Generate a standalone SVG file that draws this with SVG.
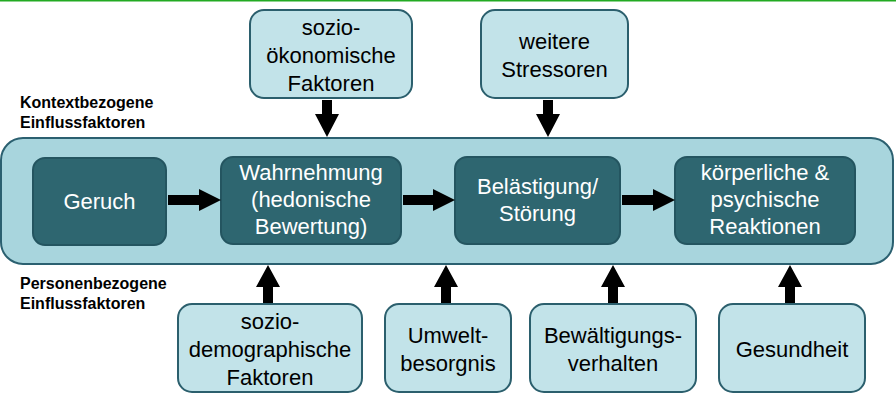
<svg xmlns="http://www.w3.org/2000/svg" width="896" height="406" viewBox="0 0 896 406">
<style>
.t{font-family:"Liberation Sans",Arial,sans-serif;font-size:22px;text-anchor:middle}
.w{fill:#fff}.k{fill:#000}
.lb{font-family:"Liberation Sans",Arial,sans-serif;font-size:16px;font-weight:bold;fill:#000}
.dark{fill:#2e6670;stroke:#245560;stroke-width:2}
.light{fill:#c2e3e9;stroke:#2b5f6d;stroke-width:2}
</style>
<rect width="896" height="406" fill="#fff"/>
<line x1="0" y1="0.5" x2="896" y2="0.5" stroke="#22aa22" stroke-width="2"/>
<text class="lb" x="20" y="108">Kontextbezogene</text>
<text class="lb" x="20" y="128">Einflussfaktoren</text>
<text class="lb" x="20" y="289">Personenbezogene</text>
<text class="lb" x="20" y="309">Einflussfaktoren</text>
<g id="context"><rect x="1" y="138" width="892" height="126" rx="22" fill="#a8d5dd" stroke="#2b6070" stroke-width="2"/></g>
<g id="geruch"><rect class="dark" x="33" y="158" width="133" height="87" rx="12"/><text class="t w" x="99.5" y="209">Geruch</text></g>
<g id="wahrnehmung"><rect class="dark" x="221" y="157" width="180" height="87" rx="12"/><text class="t w" x="311" y="180">Wahrnehmung</text><text class="t w" x="311" y="207">(hedonische</text><text class="t w" x="311" y="234">Bewertung)</text></g>
<g id="belaestigung"><rect class="dark" x="455" y="157" width="165" height="87" rx="12"/><text class="t w" x="537.5" y="194">Belästigung/</text><text class="t w" x="537.5" y="221">Störung</text></g>
<g id="reaktionen"><rect class="dark" x="675" y="157" width="180" height="87" rx="12"/><text class="t w" x="765" y="180">körperliche &amp;</text><text class="t w" x="765" y="207">psychische</text><text class="t w" x="765" y="234">Reaktionen</text></g>
<g id="soziooek"><rect class="light" x="250" y="10" width="162" height="88" rx="14"/><text class="t k" x="331" y="35">sozio-</text><text class="t k" x="331" y="63">ökonomische</text><text class="t k" x="331" y="91">Faktoren</text></g>
<g id="stressoren"><rect class="light" x="481" y="10" width="147" height="88" rx="14"/><text class="t k" x="554.5" y="49">weitere</text><text class="t k" x="554.5" y="77">Stressoren</text></g>
<g id="soziodemo"><rect class="light" x="178" y="304" width="184" height="88" rx="14"/><text class="t k" x="270" y="329">sozio-</text><text class="t k" x="270" y="357">demographische</text><text class="t k" x="270" y="385">Faktoren</text></g>
<g id="umwelt"><rect class="light" x="385" y="304" width="126" height="88" rx="14"/><text class="t k" x="448" y="343">Umwelt-</text><text class="t k" x="448" y="371">besorgnis</text></g>
<g id="bewaeltigung"><rect class="light" x="530" y="304" width="166" height="88" rx="14"/><text class="t k" x="613" y="343">Bewältigungs-</text><text class="t k" x="613" y="371">verhalten</text></g>
<g id="gesundheit"><rect class="light" x="719" y="304" width="146" height="88" rx="14"/><text class="t k" x="792" y="357">Gesundheit</text></g>
<g id="connectors" fill="#000">
<polygon points="322,100 332,100 332,114 339,114 327,137 315,114 322,114"/>
<polygon points="543,100 553,100 553,114 560,114 548,137 536,114 543,114"/>
<polygon points="168,195 199,195 199,189 221,200 199,211 199,205 168,205"/>
<polygon points="403,195 433,195 433,189 455,200 433,211 433,205 403,205"/>
<polygon points="622,195 653,195 653,189 675,200 653,211 653,205 622,205"/>
<polygon points="263,303 273,303 273,287 280,287 268,265 256,287 263,287"/>
<polygon points="441,303 451,303 451,287 458,287 446,265 434,287 441,287"/>
<polygon points="608,303 618,303 618,287 625,287 613,265 601,287 608,287"/>
<polygon points="785,303 795,303 795,287 802,287 790,265 778,287 785,287"/>
</g>
</svg>
